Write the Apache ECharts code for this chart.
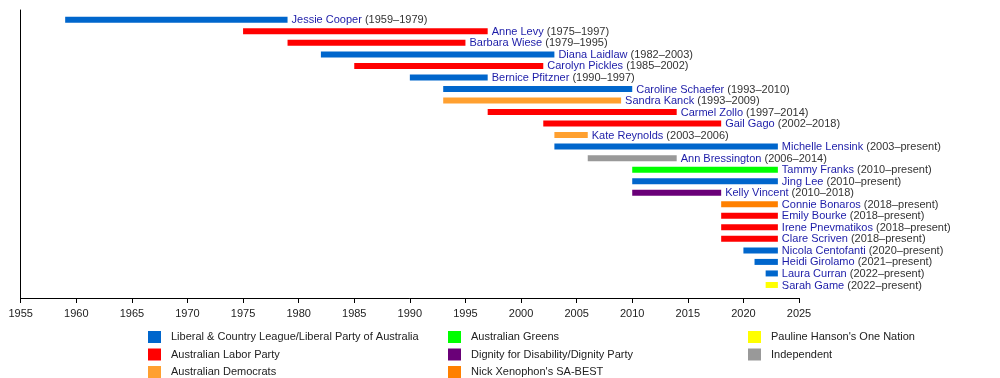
<!DOCTYPE html>
<html>
<head>
<meta charset="utf-8">
<script src="https://cdn.jsdelivr.net/npm/echarts@6/dist/echarts.min.js"></script>
<style>
html,body{margin:0;padding:0;background:#fff;}
#chart{width:1000px;height:378px;}
</style>
</head>
<body>
<div id="chart"></div>
<script>
// ---- data ----
const memberNames = ["Jessie Cooper","Anne Levy","Barbara Wiese","Diana Laidlaw","Carolyn Pickles","Bernice Pfitzner","Caroline Schaefer","Sandra Kanck","Carmel Zollo","Gail Gago","Kate Reynolds","Michelle Lensink","Ann Bressington","Tammy Franks","Jing Lee","Kelly Vincent","Connie Bonaros","Emily Bourke","Irene Pnevmatikos","Clare Scriven","Nicola Centofanti","Heidi Girolamo","Laura Curran","Sarah Game"];
const startYears = [1959,1975,1979,1982,1985,1990,1993,1993,1997,2002,2003,2003,2006,2010,2010,2010,2018,2018,2018,2018,2020,2021,2022,2022];
const endYears = [1979,1997,1995,2003,2002,1997,2010,2009,2014,2018,2006,"present",2014,"present","present",2018,"present","present","present","present","present","present","present","present"];
const memberParty = ["LIB","ALP","ALP","LIB","ALP","LIB","LIB","DEM","ALP","ALP","DEM","LIB","IND","GRN","LIB","DIG","SAB","ALP","ALP","ALP","LIB","LIB","LIB","PHON"];
const PRESENT_YEAR = 2023.1;
const partyKeys = ["LIB","ALP","DEM","GRN","DIG","SAB","PHON","IND"];
const partyNames = ["Liberal & Country League/Liberal Party of Australia","Australian Labor Party","Australian Democrats","Australian Greens","Dignity for Disability/Dignity Party","Nick Xenophon's SA-BEST","Pauline Hanson's One Nation","Independent"];
const partyColors = ["#0066cc","#ff0000","#ffa030","#00ff00","#6a0078","#ff8000","#ffff00","#999999"];
const xTicks = {min:1955, max:2025, interval:5};

// ---- chart ----
const chart = echarts.init(document.getElementById('chart'), null, {renderer:'canvas'});
const FF = '"Liberation Sans", Arial, sans-serif';
const FONT = '11px ' + FF;

function renderItem(params, api){
  const s = api.value(0), e = api.value(1), row = api.value(2);
  const idx = api.value(3);
  const p0 = api.coord([s,row]);
  const p1 = api.coord([e,row]);
  const h = 6;
  const endLbl = endYears[idx];
  return {
    type:'group',
    children:[
      {type:'rect', shape:{x:p0[0], y:p0[1]-h/2, width:p1[0]-p0[0], height:h}, style:{fill:api.visual('color')}},
      {type:'text', x:p1[0]+4, y:p1[1]+0.5, style:{
        text:'{n|'+memberNames[idx]+'} {y|('+startYears[idx]+'–'+endLbl+')}',
        font:FONT, verticalAlign:'middle', align:'left',
        rich:{n:{fill:'#1c1ca8', font:FONT}, y:{fill:'#333333', font:FONT}}
      }}
    ]
  };
}

const series = partyKeys.map((k,pi)=>{
  const data = [];
  memberParty.forEach((p,i)=>{
    if(p===k){
      const e = endYears[i]==="present" ? PRESENT_YEAR : endYears[i];
      data.push([startYears[i], e, i, i]);
    }
  });
  return {
    type:'custom', name:partyNames[pi], renderItem,
    itemStyle:{color:partyColors[pi]},
    encode:{x:[0,1], y:2},
    data, clip:false
  };
});

function legendCol(names, left){
  return {
    orient:'vertical', left, top:331, height:70, padding:0, data:names,
    icon:'rect', itemWidth:13, itemHeight:12, itemGap:5.5,
    textStyle:{fontSize:11, color:'#222', fontFamily:FF, padding:[0,0,0,5]},
    selectedMode:false
  };
}

chart.setOption({
  animation:false,
  grid:{left:20.7, right:201, top:10, bottom:80},
  xAxis:{type:'value', position:'bottom', min:xTicks.min, max:xTicks.max, interval:xTicks.interval,
    axisLine:{show:true, onZero:false, lineStyle:{color:'#000', width:1}},
    axisTick:{show:true, length:5, lineStyle:{color:'#000'}},
    axisLabel:{color:'#222', fontSize:11, margin:10, fontFamily:FF, formatter:v=>String(v)},
    splitLine:{show:false}},
  yAxis:{type:'value', inverse:true, min:-0.85, max:24.13,
    axisLine:{show:true, onZero:false, lineStyle:{color:'#000', width:1}},
    axisTick:{show:false}, axisLabel:{show:false}, splitLine:{show:false}},
  legend:[
    legendCol(partyNames.slice(0,3), 148),
    legendCol(partyNames.slice(3,6), 448),
    legendCol(partyNames.slice(6,8), 748)
  ],
  series
});
</script>
</body>
</html>
